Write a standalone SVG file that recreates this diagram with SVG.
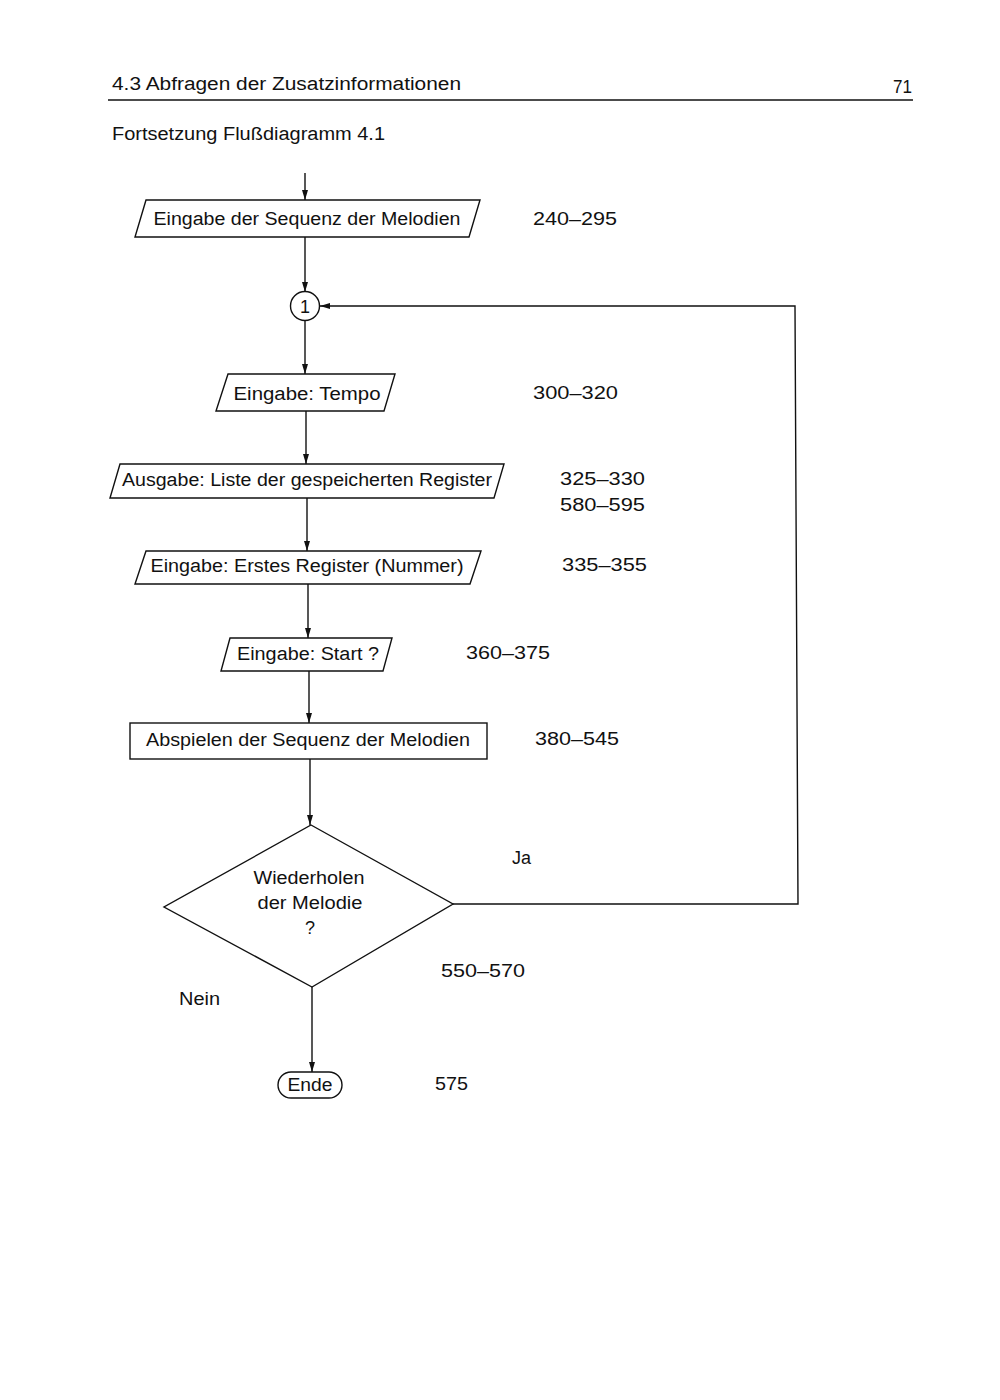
<svg xmlns="http://www.w3.org/2000/svg" width="1000" height="1400" viewBox="0 0 1000 1400">
<style>
text{font-family:"Liberation Sans",Arial,sans-serif;font-size:18px;fill:#111}
.c{text-anchor:middle}
.s{fill:#fff;stroke:#111;stroke-width:1.4}
.l{fill:none;stroke:#111;stroke-width:1.4}
</style>
<defs>
<marker id="a" viewBox="0 0 10 6" refX="10" refY="3" markerWidth="10" markerHeight="6" orient="auto" markerUnits="userSpaceOnUse">
<path d="M0,0 L10,3 L0,6 Z" fill="#111"/>
</marker>
</defs>
<rect width="1000" height="1400" fill="#fff"/>
<g id="header">
<text x="112" y="90" textLength="349" lengthAdjust="spacingAndGlyphs">4.3  Abfragen der Zusatzinformationen</text>
<text x="893" y="93" textLength="19" lengthAdjust="spacingAndGlyphs">71</text>
<line x1="108" y1="100" x2="913" y2="100" stroke="#111" stroke-width="1.5"/>
<text x="112" y="140" textLength="273" lengthAdjust="spacingAndGlyphs">Fortsetzung Flußdiagramm 4.1</text>
</g>
<g id="connectors">
<line class="l" x1="305" y1="173" x2="305" y2="200" marker-end="url(#a)"/>
<line class="l" x1="305" y1="237" x2="305" y2="292" marker-end="url(#a)"/>
<line class="l" x1="305" y1="321" x2="305" y2="374" marker-end="url(#a)"/>
<line class="l" x1="306" y1="411" x2="306" y2="464" marker-end="url(#a)"/>
<line class="l" x1="307" y1="498" x2="307" y2="551" marker-end="url(#a)"/>
<line class="l" x1="308" y1="584" x2="308" y2="638" marker-end="url(#a)"/>
<line class="l" x1="309" y1="671" x2="309" y2="723" marker-end="url(#a)"/>
<line class="l" x1="310" y1="759" x2="310" y2="825" marker-end="url(#a)"/>
<line class="l" x1="312" y1="987" x2="312" y2="1072" marker-end="url(#a)"/>
<polyline class="l" points="453,904 798,904 795,306 320,306" marker-end="url(#a)"/>
</g>
<g id="n_eingabe_sequenz">
<polygon class="s" points="146,200 480,200 469,237 135,237"/>
<text class="c" x="307" y="225" textLength="307" lengthAdjust="spacingAndGlyphs">Eingabe der Sequenz der Melodien</text>
<text x="533" y="225" textLength="84" lengthAdjust="spacingAndGlyphs">240–295</text>
</g>
<g id="n_connector1">
<circle class="s" cx="305" cy="306" r="14.5"/>
<text class="c" x="305" y="313">1</text>
</g>
<g id="n_tempo">
<polygon class="s" points="228,374 395,374 384,411 216,411"/>
<text class="c" x="307" y="400" textLength="147" lengthAdjust="spacingAndGlyphs">Eingabe: Tempo</text>
<text x="533" y="399" textLength="85" lengthAdjust="spacingAndGlyphs">300–320</text>
</g>
<g id="n_ausgabe">
<polygon class="s" points="120,464 504,464 494,498 110,498"/>
<text class="c" x="307" y="486" textLength="370" lengthAdjust="spacingAndGlyphs">Ausgabe: Liste der gespeicherten Register</text>
<text x="560" y="485" textLength="85" lengthAdjust="spacingAndGlyphs">325–330</text>
<text x="560" y="511" textLength="85" lengthAdjust="spacingAndGlyphs">580–595</text>
</g>
<g id="n_erstes_register">
<polygon class="s" points="146,551 481,551 470,584 135,584"/>
<text class="c" x="307" y="572" textLength="313" lengthAdjust="spacingAndGlyphs">Eingabe: Erstes Register (Nummer)</text>
<text x="562" y="571" textLength="85" lengthAdjust="spacingAndGlyphs">335–355</text>
</g>
<g id="n_start">
<polygon class="s" points="230,638 392,638 383,671 221,671"/>
<text class="c" x="308" y="660" textLength="142" lengthAdjust="spacingAndGlyphs">Eingabe: Start ?</text>
<text x="466" y="659" textLength="84" lengthAdjust="spacingAndGlyphs">360–375</text>
</g>
<g id="n_abspielen">
<rect class="s" x="130" y="723" width="357" height="36"/>
<text class="c" x="308" y="746" textLength="324" lengthAdjust="spacingAndGlyphs">Abspielen der Sequenz der Melodien</text>
<text x="535" y="745" textLength="84" lengthAdjust="spacingAndGlyphs">380–545</text>
</g>
<g id="n_wiederholen">
<polygon class="s" points="311,825 453,904 312,987 164,907"/>
<text class="c" x="309" y="884" textLength="111" lengthAdjust="spacingAndGlyphs">Wiederholen</text>
<text class="c" x="310" y="909" textLength="105" lengthAdjust="spacingAndGlyphs">der Melodie</text>
<text class="c" x="310" y="934">?</text>
<text x="512" y="864">Ja</text>
<text x="441" y="977" textLength="84" lengthAdjust="spacingAndGlyphs">550–570</text>
<text x="179" y="1005" textLength="41" lengthAdjust="spacingAndGlyphs">Nein</text>
</g>
<g id="n_ende">
<rect class="s" x="278" y="1072" width="64" height="26" rx="13"/>
<text class="c" x="310" y="1091" textLength="45" lengthAdjust="spacingAndGlyphs">Ende</text>
<text x="435" y="1090" textLength="33" lengthAdjust="spacingAndGlyphs">575</text>
</g>
</svg>
